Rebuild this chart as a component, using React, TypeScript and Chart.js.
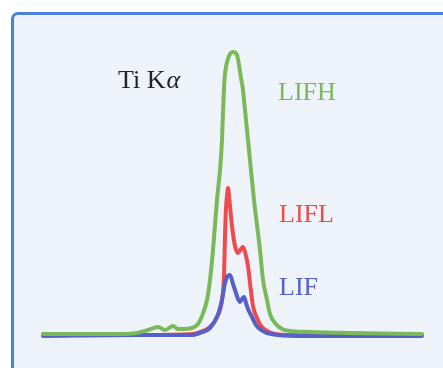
import React, { useEffect, useRef } from "react";
import { Chart, registerables } from "chart.js";

Chart.register(...registerables);

// Ti Kα spectra measured with three analyzer crystals (channel vs. intensity)
const lifhChannels = [0, 77, 94, 105, 115, 122, 130, 135, 140, 149, 155, 159, 164, 167, 170, 174, 177, 179, 180, 181, 182, 184, 187, 190, 194, 196, 198, 200, 201, 206, 211, 217, 220, 224, 227, 232, 239, 247, 267, 307, 379];
const lifhCounts = [2, 2, 3, 6, 9, 6, 10, 7, 7, 8, 12, 20, 36, 56, 86, 136, 166, 196, 224, 248, 262, 274, 282, 284, 281, 271, 258, 246, 236, 186, 136, 86, 56, 36, 22, 13, 7, 5, 4, 3, 2];

const liflChannels = [0, 100, 150, 157, 167, 174, 179, 181, 182, 183, 184, 185, 186, 187, 189, 192, 195, 198, 200, 202, 205, 207, 210, 214, 218, 224, 232, 250, 379];
const liflCounts = [1, 1, 2, 4, 9, 19, 36, 60, 100, 128, 140, 148, 140, 130, 110, 90, 83, 87, 89, 84, 70, 53, 30, 18, 10, 5, 2, 1, 1];

const lifChannels = [0, 94, 150, 157, 167, 174, 177, 179, 182, 184, 187, 190, 192, 195, 197, 199, 201, 203, 205, 209, 213, 218, 224, 235, 260, 379];
const lifCounts = [0, 1, 1, 3, 8, 19, 28, 36, 53, 59, 61, 52, 46, 37, 34, 37, 39, 33, 27, 19, 11, 6, 3, 1, 0, 0];

const seriesNames = ["LIFH", "LIFL", "LIF"];
const seriesColors = ["#79b959", "#ef4a4c", "#5660c9"];
const titleText = "Ti K";
const titleGreek = "α";

const toPoints = (xs: number[], ys: number[]) => xs.map((x, i) => ({ x, y: ys[i] }));

const SERIF = '"Liberation Serif", "DejaVu Serif", serif';

// Text labels placed in data coordinates
const labelPlugin = {
  id: "spectrumLabels",
  afterDatasetsDraw(chart: any) {
    const { ctx, scales } = chart;
    const xs = scales.x;
    const ys = scales.y;
    ctx.save();
    ctx.textBaseline = "alphabetic";
    ctx.textAlign = "left";

    // Title: "Ti K" followed by an italic alpha
    ctx.font = `26px ${SERIF}`;
    ctx.fillStyle = "#232323";
    const tx = xs.getPixelForValue(75);
    const ty = ys.getPixelForValue(248);
    ctx.fillText(titleText, tx, ty);
    const w = ctx.measureText(titleText).width;
    ctx.font = `italic 26px ${SERIF}`;
    ctx.fillText(titleGreek, tx + w + 1, ty);

    const spots = [
      [235, 236],
      [236, 114],
      [236, 41],
    ];
    ctx.font = `26px ${SERIF}`;
    seriesNames.forEach((name, i) => {
      ctx.fillStyle = seriesColors[i];
      ctx.fillText(name, xs.getPixelForValue(spots[i][0]), ys.getPixelForValue(spots[i][1]));
    });
    ctx.restore();
  },
};

export default function App() {
  const canvasRef = useRef<HTMLCanvasElement | null>(null);

  useEffect(() => {
    if (!canvasRef.current) return;
    const lineStyle = {
      borderWidth: 4,
      pointRadius: 0,
      cubicInterpolationMode: "monotone" as const,
      fill: false,
      clip: false as any,
      borderCapStyle: "round" as const,
      borderJoinStyle: "round" as const,
    };
    const chart = new Chart(canvasRef.current, {
      type: "line",
      data: {
        datasets: [
          { label: seriesNames[0], data: toPoints(lifhChannels, lifhCounts), borderColor: seriesColors[0], order: 0, ...lineStyle },
          { label: seriesNames[1], data: toPoints(liflChannels, liflCounts), borderColor: seriesColors[1], order: 2, ...lineStyle },
          { label: seriesNames[2], data: toPoints(lifChannels, lifCounts), borderColor: seriesColors[2], order: 1, ...lineStyle },
        ],
      },
      options: {
        animation: false,
        responsive: false,
        layout: { padding: { left: 43, right: 21, top: 36, bottom: 32 } },
        scales: {
          x: { type: "linear", min: 0, max: 379, display: false },
          y: { type: "linear", min: 0, max: 300, display: false },
        },
        plugins: {
          legend: { display: false },
          tooltip: { enabled: false },
        },
      },
      plugins: [labelPlugin],
    });
    return () => chart.destroy();
  }, []);

  return (
    <div
      style={{
        position: "fixed",
        left: 0,
        top: 0,
        width: 443,
        height: 368,
        overflow: "hidden",
        background: "#ffffff",
      }}
    >
      <div
        style={{
          position: "absolute",
          left: 11,
          top: 12,
          width: 470,
          height: 400,
          border: "3px solid #4a82d6",
          borderRadius: 7,
          background: "#eef3fa",
        }}
      />
      <canvas
        ref={canvasRef}
        width={443}
        height={368}
        style={{ position: "absolute", left: 0, top: 0, width: 443, height: 368 }}
      />
    </div>
  );
}
